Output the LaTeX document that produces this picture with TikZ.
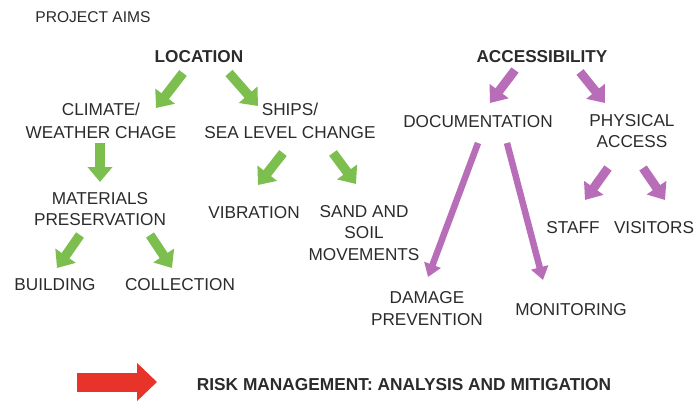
\documentclass[tikz,border=0pt]{standalone}
\usepackage{fontspec}
\setmainfont{Liberation Sans}
\usetikzlibrary{arrows.meta}
\definecolor{txt}{HTML}{2B2B2B}
\definecolor{grn}{HTML}{7DBF4F}
\definecolor{prp}{HTML}{B86DB8}
\definecolor{rd}{HTML}{E8332B}
\tikzset{
  lbl/.style={inner sep=0pt, anchor=base, align=center, text=txt,
    font=\fontsize{17.2}{21}\selectfont},
  blbl/.style={lbl, font=\fontsize{17.2}{21}\selectfont\bfseries},
  garrow/.style={draw=grn, line width=9.5pt, -{Triangle[width=24pt,length=15pt]}},
  parrow/.style={draw=prp, line width=9pt, -{Triangle[width=23pt,length=15pt]}},
  plong/.style={draw=prp, line width=6.5pt, -{Triangle[width=17pt,length=13pt]}},
  rarrow/.style={draw=rd, line width=19pt, -{Triangle[width=37pt,length=20pt]}}
}
\begin{document}
\begin{tikzpicture}[x=1pt,y=-1pt]
\useasboundingbox (0,0) rectangle (696,400);
% labels (base anchor = baseline of the last line)
\node[lbl, font=\fontsize{15.6}{19}\selectfont] (aims) at (93,22) {PROJECT AIMS};
\node[blbl] (loc) at (199,62) {LOCATION};
\node[lbl, font=\fontsize{17.2}{23}\selectfont] (clim) at (101,138) {CLIMATE/\\WEATHER CHAGE};
\node[lbl, font=\fontsize{17.2}{23}\selectfont] (ships) at (290,138) {SHIPS/\\SEA LEVEL CHANGE};
\node[lbl, font=\fontsize{17.2}{20.5}\selectfont] (mat) at (100,225) {MATERIALS\\PRESERVATION};
\node[lbl] (vib) at (254,218) {VIBRATION};
\node[lbl, font=\fontsize{17.2}{21.5}\selectfont] (sand) at (364,260) {SAND AND\\SOIL\\MOVEMENTS};
\node[lbl] (build) at (55,290) {BUILDING};
\node[lbl] (coll) at (180,290) {COLLECTION};
\node[blbl] (acc) at (542,62) {ACCESSIBILITY};
\node[lbl] (doc) at (478,127) {DOCUMENTATION};
\node[lbl, font=\fontsize{17.2}{20.5}\selectfont] (phys) at (632,147) {PHYSICAL\\ACCESS};
\node[lbl] (staff) at (573,233) {STAFF};
\node[lbl] (vis) at (654,233) {VISITORS};
\node[lbl, font=\fontsize{17.2}{22}\selectfont] (dam) at (427,325) {DAMAGE\\PREVENTION};
\node[lbl] (mon) at (571,315) {MONITORING};
\node[blbl, font=\fontsize{17.3}{21}\selectfont\bfseries] (risk) at (404,390) {RISK MANAGEMENT: ANALYSIS AND MITIGATION};
% arrow end points
\coordinate (a1s) at (183,73);  \coordinate (a1e) at (156,108);
\coordinate (a2s) at (229,73);  \coordinate (a2e) at (258,106);
\coordinate (a3s) at (100,143); \coordinate (a3e) at (100,182);
\coordinate (a4s) at (283,153); \coordinate (a4e) at (258,185);
\coordinate (a5s) at (333,153); \coordinate (a5e) at (356,184);
\coordinate (a6s) at (80,235);  \coordinate (a6e) at (57,268);
\coordinate (a7s) at (150,235); \coordinate (a7e) at (172,268);
\coordinate (b1s) at (515,70);  \coordinate (b1e) at (490,103);
\coordinate (b2s) at (580,72);  \coordinate (b2e) at (605,103);
\coordinate (b3s) at (478,143); \coordinate (b3e) at (428,277);
\coordinate (b4s) at (507,143); \coordinate (b4e) at (543,280);
\coordinate (b5s) at (608,168); \coordinate (b5e) at (585,200);
\coordinate (b6s) at (643,168); \coordinate (b6e) at (665,200);
\coordinate (rs) at (77,382);   \coordinate (re) at (157,382);
% green arrows
\draw[garrow] (a1s) -- (a1e);
\draw[garrow] (a2s) -- (a2e);
\draw[garrow] (a3s) -- (a3e);
\draw[garrow] (a4s) -- (a4e);
\draw[garrow] (a5s) -- (a5e);
\draw[garrow] (a6s) -- (a6e);
\draw[garrow] (a7s) -- (a7e);
% purple arrows
\draw[parrow] (b1s) -- (b1e);
\draw[parrow] (b2s) -- (b2e);
\draw[plong] (b3s) -- (b3e);
\draw[plong] (b4s) -- (b4e);
\draw[parrow] (b5s) -- (b5e);
\draw[parrow] (b6s) -- (b6e);
% red arrow
\draw[rarrow] (rs) -- (re);
\end{tikzpicture}
\end{document}
